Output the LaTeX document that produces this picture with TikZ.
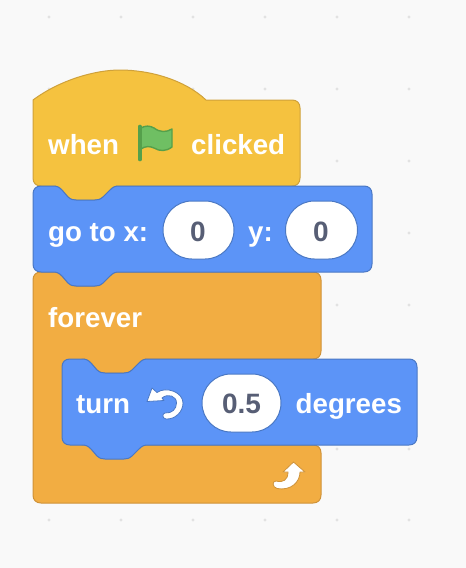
\documentclass[tikz,border=0pt]{standalone}
\usepackage{fontspec}
\setmainfont{Liberation Sans}[BoldFont={Liberation Sans Bold}]
\definecolor{bgc}{HTML}{F9F9F9}
\definecolor{dotc}{HTML}{E2E2E2}
\definecolor{hatf}{HTML}{F5C23F}
\definecolor{hatd}{HTML}{CFA13A}
\definecolor{motf}{HTML}{5C94F7}
\definecolor{motd}{HTML}{4A78C4}
\definecolor{ctlf}{HTML}{F2AD42}
\definecolor{ctld}{HTML}{CF9238}
\definecolor{numt}{HTML}{575E75}
\definecolor{flagf}{HTML}{6FBF63}
\definecolor{flagd}{HTML}{55A04B}
% bump running left-to-right, from the left block edge #1 at height #2
\newcommand\bumpLR[2]{-- (#1+20,#2) .. controls (#1+24,#2) and (#1+26,#2+1) .. (#1+29,#2+4)
  -- (#1+35,#2+11) .. controls (#1+38,#2+13.5) and (#1+40,#2+14) .. (#1+43,#2+14)
  -- (#1+62,#2+14) .. controls (#1+65,#2+14) and (#1+67,#2+13.5) .. (#1+70,#2+11)
  -- (#1+77,#2+4) .. controls (#1+80,#2+1) and (#1+82,#2) .. (#1+86,#2) }
\newcommand\bumpRL[2]{-- (#1+86,#2) .. controls (#1+82,#2) and (#1+80,#2+1) .. (#1+77,#2+4)
  -- (#1+70,#2+11) .. controls (#1+67,#2+13.5) and (#1+65,#2+14) .. (#1+62,#2+14)
  -- (#1+43,#2+14) .. controls (#1+40,#2+14) and (#1+38,#2+13.5) .. (#1+35,#2+11)
  -- (#1+29,#2+4) .. controls (#1+26,#2+1) and (#1+24,#2) .. (#1+20,#2) }
\tikzset{
 x=1pt,y=-1pt,
 hatblock/.style={draw=hatd,fill=hatf,line width=1pt,line join=round},
 motionblock/.style={draw=motd,fill=motf,line width=1pt,line join=round},
 ctlblock/.style={draw=ctld,fill=ctlf,line width=1pt,line join=round},
 lbl/.style={text=white,font=\fontsize{27.7}{28}\selectfont\bfseries,inner sep=0pt,anchor=base west},
 slot/.style={draw=motd,fill=white,line width=1pt,rounded corners=28.9pt,minimum height=58pt,inner sep=0pt},
 val/.style={text=numt,font=\fontsize{28}{28}\selectfont\bfseries,inner sep=0pt,anchor=base},
 griddot/.style={fill=dotc,draw=none}
}
\begin{document}
\begin{tikzpicture}
\useasboundingbox (0,0) rectangle (466,568);
\fill[bgc] (0,0) rectangle (466,568);
\foreach \gx in {49,121,193,265,337,409}
  \foreach \gy in {17,89,161,233,305,377,449,520}
    \fill[griddot] (\gx,\gy) circle (1.6);
% hat block
\path[hatblock] (33,100) .. controls (60,80) and (95,70) .. (120,70)
  .. controls (150,70) and (185,80) .. (206,100)
  -- (292,100) .. controls (297,100) and (300,103) .. (300,108)
  -- (300,178) .. controls (300,183) and (297,186) .. (292,186)
  \bumpRL{33}{186}
  -- (41,186) .. controls (36,186) and (33,183) .. (33,178) -- cycle;
% control block
\path[ctlblock] (41,272) \bumpLR{33}{272}
  -- (313,272) .. controls (318,272) and (321,275) .. (321,280)
  -- (321,351) .. controls (321,356) and (318,359) .. (313,359)
  \bumpRL{62}{359}
  -- (82,445)
  -- (313,445) .. controls (318,445) and (321,448) .. (321,453)
  -- (321,495) .. controls (321,500) and (318,503) .. (313,503)
  -- (41,503) .. controls (36,503) and (33,500) .. (33,495)
  -- (33,280) .. controls (33,275) and (36,272) .. (41,272) -- cycle;
% motion block go to
\path[motionblock] (41,186) \bumpLR{33}{186}
  -- (364,186) .. controls (369,186) and (372,189) .. (372,194)
  -- (372,264) .. controls (372,269) and (369,272) .. (364,272)
  \bumpRL{33}{272}
  -- (41,272) .. controls (36,272) and (33,269) .. (33,264)
  -- (33,194) .. controls (33,189) and (36,186) .. (41,186) -- cycle;
% motion block turn
\path[motionblock] (70,359) \bumpLR{62}{359}
  -- (409,359) .. controls (414,359) and (417,362) .. (417,367)
  -- (417,437) .. controls (417,442) and (414,445) .. (409,445)
  \bumpRL{62}{445}
  -- (70,445) .. controls (65,445) and (62,442) .. (62,437)
  -- (62,367) .. controls (62,362) and (65,359) .. (70,359) -- cycle;
% texts
\node[lbl] (whenlbl) at (48,154) {when};
\node[lbl] (clickedlbl) at (191,154) {clicked};
\node[lbl] (gotolbl) at (48,241) {go to x:};
\node[lbl] (ylbl) at (248,241) {y:};
\node[lbl] (foreverlbl) at (48,327) {forever};
\node[lbl] (turnlbl) at (76,413) {turn};
\node[lbl] (deglbl) at (295.5,413) {degrees};
% slots
\node[slot,minimum width=71pt] (xslot) at (198.5,230) {};
\node[slot,minimum width=72pt] (yslot) at (321.5,230) {};
\node[slot,minimum width=79pt] (tslot) at (241.5,403) {};
\node[val] (xval) at (198,241) {0};
\node[val] (yval) at (321,241) {0};
\node[val] (tval) at (241.5,413) {0.5};
% flag
\fill[flagf,draw=flagd,line width=1.4pt,line join=round] (141,128)
  .. controls (145,125.5) and (150,125.5) .. (154,128)
  .. controls (160,132.5) and (166,132.5) .. (172,129)
  -- (172,147) .. controls (166,151.5) and (160,151.5) .. (154,148)
  .. controls (150,146) and (145,146) .. (141,149) -- cycle;
\draw[flagd,line width=3.6pt,line cap=round] (140,126.5) -- (140,159.5);
% turn-left icon
\path[fill=white,draw=motd,line width=0.8pt,line join=round] (152,388)
  -- (157,392.5) .. controls (166,386) and (183,392) .. (183,403)
  .. controls (183,412) and (175,419.5) .. (166,419)
  .. controls (162,418.5) and (162,413.5) .. (165,413)
  .. controls (172,413.5) and (176.5,409) .. (176.5,403)
  .. controls (176.5,396) and (168,393) .. (162,398)
  -- (164,400.5) -- (147,401.5) -- cycle;
% repeat arrow
\path[fill=white,draw=ctld,line width=0.8pt,line join=round] (293.5,462)
  -- (305,472) -- (300,472)
  .. controls (300,482) and (291,491) .. (277,488.5)
  .. controls (272,487) and (272,481) .. (276,481)
  .. controls (283,483) and (288,480) .. (288,472)
  -- (283,472) -- cycle;
\end{tikzpicture}
\end{document}
